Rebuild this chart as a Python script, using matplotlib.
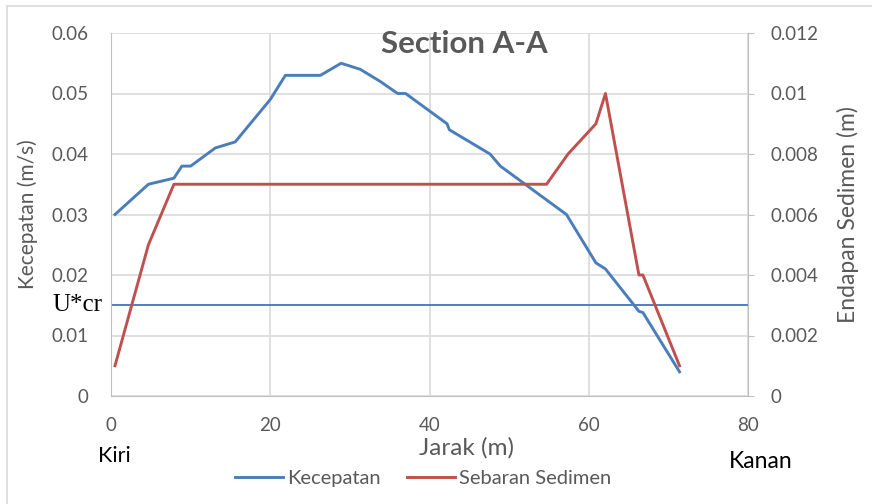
import matplotlib
matplotlib.use('Agg')
from matplotlib import pyplot as plt
from matplotlib.patches import Rectangle

# values
jarak_v = [0.5, 4.7, 7.9, 8.9, 10.0, 13.1, 15.6, 20.0, 21.9, 26.3, 28.9, 31.3,
           33.8, 36.0, 37.0, 42.2, 42.5, 47.6, 48.9, 57.2, 60.9, 62.1, 66.3, 66.8, 71.4]
kecepatan = [0.030, 0.035, 0.036, 0.038, 0.038, 0.041, 0.042, 0.049, 0.053, 0.053, 0.055, 0.054,
             0.052, 0.050, 0.050, 0.045, 0.044, 0.040, 0.038, 0.030, 0.022, 0.021, 0.014, 0.0138, 0.004]

jarak_s = [0.5, 4.7, 7.9, 54.7, 57.4, 60.9, 62.1, 66.3, 66.8, 71.4]
sedimen = [0.001, 0.005, 0.007, 0.007, 0.008, 0.009, 0.010, 0.004, 0.004, 0.001]

u_cr = 0.015
x_ticks = [0, 20, 40, 60, 80]
y_left_ticks = [0, 0.01, 0.02, 0.03, 0.04, 0.05, 0.06]
y_right_ticks = [0, 0.002, 0.004, 0.006, 0.008, 0.01, 0.012]

blue = '#4a7ebb'
red = '#c0504d'
gray = '#595959'
grid_c = '#d9d9d9'
spine_c = '#bfbfbf'

plt.rcParams['font.family'] = ['Lato', 'DejaVu Sans']

W, H = 872, 504
fig = plt.figure(figsize=(W / 100, H / 100), dpi=100)
ax = fig.add_axes([111 / W, 1 - 396 / H, (748 - 111) / W, (396 - 33) / H])
ax2 = ax.twinx()

# chart border
fig.patches.append(Rectangle((7 / W, -0.01), 1.0, 1 - 6 / H + 0.01, transform=fig.transFigure,
                             fill=False, edgecolor='#d9d9d9', lw=1.2))

l1, = ax.plot(jarak_v, kecepatan, color=blue, lw=2.1, label='Kecepatan', zorder=3)
l2, = ax2.plot(jarak_s, sedimen, color=red, lw=2.1, label='Sebaran Sedimen', zorder=3)
ax.axhline(u_cr, color='#4472c4', lw=1.3, zorder=2)

ax.set_xlim(0, 80)
ax.set_ylim(0, 0.06)
ax2.set_ylim(0, 0.012)
ax.set_xticks(x_ticks)
ax.set_yticks(y_left_ticks)
ax.set_yticklabels(['0', '0.01', '0.02', '0.03', '0.04', '0.05', '0.06'])
ax2.set_yticks(y_right_ticks)
ax2.set_yticklabels(['0', '0.002', '0.004', '0.006', '0.008', '0.01', '0.012'])

ax.grid(True, color=grid_c, lw=1.2)
ax.set_axisbelow(True)
for a in (ax, ax2):
    for s in a.spines.values():
        s.set_visible(False)
ax.spines['left'].set_visible(True)
ax.spines['left'].set_color(spine_c)
ax.spines['bottom'].set_visible(True)
ax.spines['bottom'].set_color(spine_c)
ax2.spines['right'].set_visible(True)
ax2.spines['right'].set_color(spine_c)

ax.tick_params(axis='both', length=0, labelsize=13.5, labelcolor=gray)
ax.tick_params(axis='y', pad=16)
ax.tick_params(axis='x', pad=15)
ax2.tick_params(axis='y', length=4, color=spine_c, labelsize=13.5, labelcolor=gray, pad=12)

ax.set_ylabel('Kecepatan (m/s)', fontsize=15, color=gray)
ax.yaxis.set_label_coords((38 - 111) / 637, 0.5)
ax2.set_ylabel('Endapan Sedimen (m)', fontsize=16.5, color=gray, rotation=90)
ax2.yaxis.set_label_coords((837 - 111) / 637, 0.5)
ax.set_xlabel('Jarak (m)', fontsize=17.5, color=gray)
ax.xaxis.set_label_coords((466 - 111) / 637, (396 - 448) / 363)
ax.xaxis.label.set_va('center')

fig.text(464 / W, 1 - 44 / H, 'Section A-A', fontsize=22.5, fontweight='bold', color=gray,
         ha='center', va='center')
fig.text(77 / W, 1 - 305 / H, 'U*cr', fontsize=18, family='Liberation Serif', color='black',
         ha='center', va='center')
fig.text(114 / W, 1 - 456 / H, 'Kiri', fontsize=15.5, color='black', ha='center', va='center')
fig.text(761 / W, 1 - 461 / H, 'Kanan', fontsize=16.5, color='black', ha='center', va='center')

fig.legend(handles=[l1, l2], loc='center', bbox_to_anchor=(423 / W, 1 - 478 / H), ncol=2,
           frameon=False, fontsize=14.5, labelcolor=gray, handlelength=2.4, handletextpad=0.2,
           columnspacing=1.3)

fig.savefig('out.png', dpi=100)
